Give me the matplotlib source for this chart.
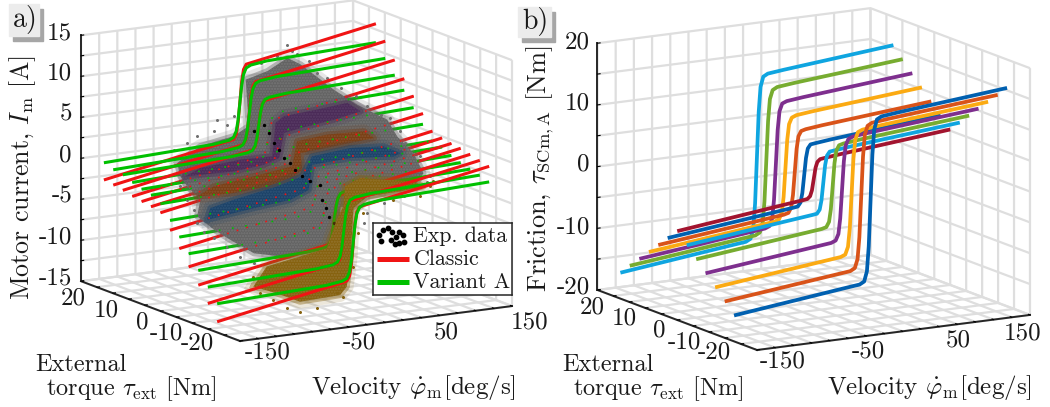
import numpy as np
import matplotlib
matplotlib.use("Agg")
import matplotlib.pyplot as plt
from matplotlib.patches import Rectangle
from mpl_toolkits.mplot3d import proj3d
from mpl_toolkits.mplot3d.art3d import Poly3DCollection

plt.rcParams["font.family"] = ["cmr10", "DejaVu Serif"]
plt.rcParams["mathtext.fontset"] = "cm"
plt.rcParams["axes.unicode_minus"] = False
plt.rcParams["axes.formatter.use_mathtext"] = True
plt.rcParams["grid.color"] = "#dedede"
plt.rcParams["grid.linewidth"] = 1.6

W, H = 1050, 407

# velocity samples of every curve, deg/s
vel = [-150, -30, -12, -7, -4, -2, 0, 2, 4, 7, 12, 30, 150]

# external torque of the 13 curves, back to front
tau = [14.25, 11.9, 9.5, 7.1, 4.75, 2.4, 0, -2.4, -4.75, -7.1, -9.5, -11.9, -14.25]

classic = [
    [-1.6, 0.84, 1.2, 1.3, 1.9, 3.3, 5.8, 8.3, 9.7, 10.3, 10.4, 10.76, 13.2],
    [-1.8, 0.64, 1.0, 1.1, 1.6, 2.7, 4.85, 7.0, 8.1, 8.6, 8.7, 9.06, 11.5],
    [-2.0, 0.44, 0.8, 0.9, 1.25, 2.15, 3.83, 5.5, 6.4, 6.75, 6.85, 7.2, 9.65],
    [-2.3, 0.14, 0.5, 0.57, 0.84, 1.5, 2.75, 4.0, 4.66, 4.93, 5.0, 5.36, 7.8],
    [-2.5, -0.06, 0.3, 0.35, 0.53, 0.98, 1.8, 2.63, 3.07, 3.25, 3.3, 3.66, 6.1],
    [-2.7, -0.26, 0.1, 0.12, 0.21, 0.44, 0.85, 1.26, 1.49, 1.58, 1.6, 1.96, 4.4],
    [-3.0, -0.56, -0.2, -0.2, -0.19, -0.18, -0.15, -0.12, -0.11, -0.1, -0.1, 0.26, 2.7],
    [-4.7, -2.26, -1.9, -1.88, -1.8, -1.6, -1.2, -0.82, -0.6, -0.52, -0.5, -0.14, 2.3],
    [-6.5, -4.06, -3.7, -3.66, -3.48, -3.03, -2.22, -1.41, -0.96, -0.78, -0.74, -0.38, 2.06],
    [-8.3, -5.86, -5.5, -5.43, -5.16, -4.47, -3.2, -1.93, -1.25, -0.97, -0.9, -0.54, 1.9],
    [-10.1, -7.66, -7.3, -7.2, -6.84, -5.93, -4.25, -2.57, -1.66, -1.3, -1.2, -0.84, 1.6],
    [-11.9, -9.46, -9.1, -9.0, -8.53, -7.39, -5.3, -3.21, -2.07, -1.6, -1.5, -1.14, 1.3],
    [-13.7, -11.26, -10.9, -10.76, -10.2, -8.85, -6.35, -3.85, -2.48, -1.94, -1.8, -1.44, 1.0],
]

variant_a = [
    [0.5, 1.02, 1.28, 1.56, 2.3, 3.6, 5.7, 7.8, 9.1, 9.84, 10.12, 10.38, 10.9],
    [0.07, 0.59, 0.83, 1.08, 1.73, 2.87, 4.73, 6.6, 7.74, 8.39, 8.64, 8.88, 9.4],
    [-0.1, 0.42, 0.63, 0.84, 1.37, 2.31, 3.85, 5.39, 6.33, 6.87, 7.07, 7.28, 7.8],
    [-0.6, -0.08, 0.12, 0.29, 0.75, 1.57, 2.9, 4.23, 5.05, 5.51, 5.68, 5.88, 6.4],
    [-1.0, -0.48, -0.31, -0.18, 0.19, 0.82, 1.85, 2.88, 3.51, 3.88, 4.01, 4.18, 4.7],
    [-1.3, -0.78, -0.64, -0.54, -0.28, 0.16, 0.9, 1.64, 2.08, 2.34, 2.44, 2.58, 3.1],
    [-1.9, -1.38, -1.26, -1.19, -1.01, -0.71, -0.2, 0.31, 0.61, 0.79, 0.86, 0.98, 1.5],
    [-3.5, -2.98, -2.83, -2.73, -2.45, -1.96, -1.15, -0.34, 0.15, 0.43, 0.53, 0.68, 1.2],
    [-5.1, -4.58, -4.41, -4.28, -3.92, -3.29, -2.25, -1.21, -0.58, -0.22, -0.09, 0.08, 0.6],
    [-6.7, -6.18, -5.99, -5.82, -5.37, -4.57, -3.28, -1.98, -1.18, -0.73, -0.56, -0.37, 0.15],
    [-8.3, -7.78, -7.56, -7.36, -6.8, -5.84, -4.25, -2.66, -1.7, -1.15, -0.94, -0.72, -0.2],
    [-9.9, -9.38, -9.14, -8.89, -8.23, -7.09, -5.2, -3.31, -2.17, -1.51, -1.26, -1.02, -0.5],
    [-11.5, -10.98, -10.71, -10.43, -9.68, -8.36, -6.2, -4.04, -2.72, -1.97, -1.69, -1.42, -0.9],
]

# friction of panel b, same size at +tau and -tau
f14 = [-15.8, -13.7, -13.4, -13.0, -11.4, -7.4, 0, 7.4, 11.4, 13.0, 13.4, 13.7, 15.4]
f12 = [-14.1, -12.1, -11.8, -11.4, -10.0, -6.5, 0, 6.5, 10.0, 11.4, 11.8, 12.1, 13.7]
f9 = [-12.4, -10.4, -10.1, -9.8, -8.6, -5.6, 0, 5.6, 8.6, 9.8, 10.1, 10.4, 12.0]
f7 = [-10.7, -8.7, -8.4, -8.1, -7.1, -4.6, 0, 4.6, 7.1, 8.1, 8.4, 8.7, 10.3]
f5 = [-9.0, -7.0, -6.7, -6.5, -5.7, -3.7, 0, 3.7, 5.7, 6.5, 6.7, 7.0, 8.6]
f2 = [-7.3, -5.3, -5.0, -4.9, -4.3, -2.8, 0, 2.8, 4.3, 4.9, 5.0, 5.3, 6.9]
f0 = [-5.6, -3.5, -3.2, -3.1, -2.7, -1.8, 0, 1.8, 2.7, 3.1, 3.2, 3.5, 5.2]
friction = [f14, f12, f9, f7, f5, f2, f0, f2, f5, f7, f9, f12, f14]
friction_colors = ["#0fa5e0", "#77ac30", "#7e2f8e", "#fbaa12", "#d95319", "#0060b0", "#a2142f",
                   "#0fa5e0", "#77ac30", "#7e2f8e", "#fbaa12", "#d95319", "#0060b0"]

# outlines of the measured clouds in panel a: velocity and current at one torque
grey_tau = 0
grey_v = [-131.6, -106, -69, -52.5, -56, -32, -10, 4.4, 41, 67, 100, 111, 129, 140, 129, 78, 63,
          48.6, 45, -14, -47, -73, -91, -109.5, -106, -120.6, -128]
grey_z = [2.8, 4.5, 5.2, 6.2, 11.9, 12.6, 13.9, 12.9, 9.3, 7.1, 4.8, 2.6, 0.3, -2.3, -3.8, -4.3, -5.3,
          -5.1, -9.9, -10.3, -9.4, -7.4, -5.9, -4.0, -2.0, -0.2, 1.1]
purple_tau = 4.75
purple_v = [-101.5, -48.2, -15.1, 1.5, 7, 25.3, 62.1, 91.5, 76.8, 43.7, 7, -2.2, -5.9, -40.8, -85]
purple_z = [-0.11, -0.26, 0.07, 0.66, 3.64, 3.98, 4.48, 5.08, 6.31, 5.97, 5.68, 4.99, 0.96, 1.06, 0.67]
orange_tau = 0
orange_v = [-109.6, -69.2, -32.4, -3, 6.2, 4.3, 41.1, 85.2, 74.2, 33.8, 0.7, -4.8, -47.1, -91.2]
orange_z = [-1.58, -1.75, -1.46, -0.65, 0.03, 2.09, 2.39, 2.78, 3.75, 3.92, 3.58, 0.6, -0.02, -0.62]
blue_tau = -2.4
blue_v = [-109.2, -57.7, -17.3, 2.9, 6.6, 48.9, 96.7, 104, 85.6, 48.9, 6.6, -4.4, -32, -79.8, -105.5]
blue_z = [-4.01, -3.31, -2.87, -1.94, 1.07, 1.29, 0.8, 1.11, 2.19, 2.51, 2.09, -0.19, -1.03, -1.98, -2.63]
yellow_tau = -14
yellow_v = [-108.9, -94.2, -57.5, -28, -17, -9.7, -7.8, 8.7, 34.4, 67.5, 78.6, 52.8, 16.1, 1.4,
            -1.6, -6, -13.3, -57.5, -83.2]
yellow_z = [-10.04, -7.8, -7.11, -6.51, -3.19, -1.67, 0.76, 1.54, 0.97, 0.29, -0.48, -0.72, -0.81, -2.03,
            -7.9, -11.51, -12.43, -12.61, -11.22]

# loose points picked around the cloud edges
top_speck_v = [42.5, 48.1, 53.6, 31.5, 13.1, 66.4, 75.6, 86.7, 101.4, 117.9, 130.8, 145.5]
top_speck_z = [12.6, 11.72, 11.23, 11.33, 10.78, 10.22, 8.66, 7.89, 6.46, 5.21, 3.79, 2.56]
mid_speck_v = [103.6, 114.6, 120.1, 136.7, 147.7, 144, 118.3, 96.2, 77.9, 74.2, -142.7, -135.3, -120.6,
               -109.6, -91.2, -76.5, -87.6, -69.2, -128, -120.6, -113.3, -109.6, -102.3, -91.2, -76.5,
               -61.8, -47.1, -32.4]
mid_speck_z = [4.97, 3.17, 1.67, -0.21, -2.8, -3.37, -4.83, -5.34, -6.3, -7.47, 3.38, 4.5, 5.11,
               5.76, 6.11, 6.72, 7.49, 7.63, -0.1, -1.83, -3.16, -4.85, -5.97, -6.94, -8.17,
               -9.61, -10.63, -11.66]
yellow_speck_v = [-109, -101.6, -86.9, -72, -57.5, -39, -17, -9.7, 1.4, 6.9, 12.4, 45.5, 74.9, 85.9, 89.6]
yellow_speck_z = [-8.81, -10.96, -11.99, -13.22, -13.84, -13.69, -12.16, -12.68, -9.17, -5.16, -2.79,
                  -1.64, -1.65, -0.58, -0.03]
black_v = [-47, -36, -30.6, -25, -19.6, -14, -6.7, -1.2, 6.2, 15.4, 26.4, 28.2, 32, 35.6, 41, 44.8, 48.5]
black_z = [5.48, 6.14, 5.04, 3.75, 2.85, 1.75, 1.03, 0.13, -0.78, -1.53, -2.09, -3.96, -5.03, -6.1, -7,
           -7.86, -9.15]

legend_dot_x = [0.045, 0.075, 0.105, 0.14, 0.165, 0.185, 0.215, 0.06, 0.13, 0.16, 0.19, 0.225]
legend_dot_y = [0.84, 0.9, 0.93, 0.87, 0.8, 0.88, 0.84, 0.75, 0.76, 0.71, 0.72, 0.74]

xticks = [-150, -130, -110, -90, -70, -50, -30, -10, 10, 30, 50, 70, 90, 110, 130, 150]
yticks = [-20, -16, -12, -8, -4, 0, 4, 8, 12, 16, 20]

fig = plt.figure(figsize=(W / 100, H / 100), dpi=100)


def px(x, y):
    return x / W, 1 - y / H


def corner(ax, x, y, z):
    xs, ys, _ = proj3d.proj_transform(x, y, z, ax.get_proj())
    return ax.transData.transform((xs, ys))


def fit(ax, a3, a_px, b3, b_px):
    # size and move the square axes so two box corners land where they do in the picture
    ax.set_position([0.2, 0.2, 0.4, 0.4 * W / H])
    ax.apply_aspect()
    p, q = corner(ax, *a3), corner(ax, *b3)
    dist = np.hypot(b_px[0] - a_px[0], b_px[1] - a_px[1])
    side = 0.4 * dist / np.hypot(*(q - p))
    ax.set_position([0.2, 0.2, side, side * W / H])
    ax.apply_aspect()
    p = corner(ax, *a3)
    ax.set_position([0.2 + (a_px[0] - p[0]) / W, 0.2 + (H - a_px[1] - p[1]) / H, side, side * W / H])


def make_axes(zlim, zticks):
    ax = fig.add_subplot(projection="3d", proj_type="ortho", computed_zorder=False)
    ax.view_init(elev=12.7, azim=-120.3)
    ax.set_box_aspect((1, 1, 0.8))
    ax.set_xlim(-150, 150)
    ax.set_ylim(-20, 20)
    ax.set_zlim(*zlim)
    ax.set_xticks(xticks)
    ax.set_yticks(yticks)
    ax.set_zticks(zticks)
    ax.set_xticklabels([])
    ax.set_yticklabels([])
    ax.set_zticklabels([])
    ax.set_facecolor("none")
    for axis in (ax.xaxis, ax.yaxis, ax.zaxis):
        axis.set_pane_color((1, 1, 1, 0))
        axis.pane.set_edgecolor("#dedede")
        axis.line.set_color("#262626")
        axis.line.set_linewidth(1.4)
        axis._axinfo["tick"]["inward_factor"] = 0
        axis._axinfo["tick"]["outward_factor"] = 0.12
        axis._axinfo["tick"]["color"] = "#262626"
    return ax


def labels(names, xs, ys, **kw):
    for name, x, y in zip(names, xs, ys):
        fig.text(*px(x, y), name, va="center", fontsize=18, color="#1a1a1a", **kw)


def title(x, y, text, size, rotation=0):
    fig.text(*px(x, y), text, ha="center", va="center", fontsize=size, rotation=rotation, color="#1a1a1a")


def panel_tag(name, x0, y0, x1, y1):
    fig.add_artist(Rectangle(px(x0 + 4, y1 + 5), (x1 - x0) / W, (y1 - y0) / H,
                             transform=fig.transFigure, color="#a6a6a6", zorder=6))
    fig.add_artist(Rectangle(px(x0, y1), (x1 - x0) / W, (y1 - y0) / H,
                             transform=fig.transFigure, color="#ececec", zorder=6))
    fig.text(*px((x0 + x1) / 2 + 1, (y0 + y1) / 2), name, ha="center", va="center", fontsize=20,
             color="#1a1a1a", zorder=7)


def cloud(ax, v, t, z, color, speck, order):
    # soft rim first, then the dense body of the cloud
    vv, zz = v + v[:1], z + z[:1]
    ax.plot(vv, [t] * len(vv), zz, color=color, lw=10, alpha=0.15, zorder=order)
    ax.plot(vv, [t] * len(vv), zz, color=color, lw=4.5, alpha=0.4, zorder=order)
    poly = Poly3DCollection([list(zip(v, [t] * len(v), z))], facecolor=color, edgecolor=speck,
                            linewidth=0, hatch="......", zorder=order)
    ax.add_collection3d(poly)


# panel a
ax1 = make_axes((-15, 15), [-15, -12.5, -10, -7.5, -5, -2.5, 0, 2.5, 5, 7.5, 10, 12.5, 15])
fit(ax1, (-150, -20, -15), (240, 341), (150, -20, -15), (512, 306))

for i, t in enumerate(tau):
    n = len(vel)
    if t >= 9:
        order = 11      # far curves stay visible above the cloud
    elif t > -9:
        order = 5       # these run inside the cloud
    elif t > -10:
        order = 10
    else:
        order = 13      # near curves pass in front of it
    ax1.plot(vel, [t] * n, classic[i], color="#f01414", lw=2.2, solid_capstyle="butt", zorder=order)
    ax1.plot(vel, [t] * n, variant_a[i], color="#00c000", lw=2.2, solid_capstyle="butt", zorder=order)
    if order == 5:
        ax1.plot(vel, [t] * n, classic[i], color="#f01414", lw=1.2, dashes=(1, 5), zorder=10)
        ax1.plot(vel, [t] * n, variant_a[i], color="#00c000", lw=1.2, dashes=(1, 7), zorder=10)

cloud(ax1, grey_v, grey_tau, grey_z, "#636363", "#767676", 6)
cloud(ax1, purple_v, purple_tau, purple_z, "#4b2b58", "#5a3d67", 7)
cloud(ax1, orange_v, orange_tau, orange_z, "#7a3f15", "#875430", 8)
cloud(ax1, blue_v, blue_tau, blue_z, "#1c4268", "#305578", 9)
cloud(ax1, yellow_v, yellow_tau, yellow_z, "#86620f", "#94752f", 12)

ax1.scatter(top_speck_v, [12] * len(top_speck_v), top_speck_z, s=1.4, color="#707070", depthshade=False, zorder=6)
ax1.scatter(mid_speck_v, [0] * len(mid_speck_v), mid_speck_z, s=1.4, color="#707070", depthshade=False, zorder=6)
ax1.scatter(yellow_speck_v, [-14] * len(yellow_speck_v), yellow_speck_z, s=1.4, color="#86620f",
            depthshade=False, zorder=12)
ax1.scatter(black_v, [0] * len(black_v), black_z, s=2, color="black", depthshade=False, zorder=10)

labels(["15", "10", "5", "0", "-5", "-10", "-15"], [72] * 7, [33, 73, 114, 155, 196, 237, 278], ha="right")
labels(["20", "10", "0", "-10", "-20"], [73, 106, 142, 166, 197], [298, 310, 322, 333, 343], ha="center")
labels(["-150", "-50", "50", "150"], [268, 359, 446, 530], [352, 342, 332, 322], ha="center")
title(23, 177, r"Motor current, $I_{\mathrm{m}}$ [A]", 18.6, 90)
title(81, 365, "External", 17.5)
title(131, 388.5, r"torque $\tau_{\mathrm{ext}}$ [Nm]", 17.5)
title(413, 387, r"Velocity $\dot{\varphi}_{\mathrm{m}}$[deg/s]", 18)

# panel b
ax2 = make_axes((-20, 20), [-20, -15, -10, -5, 0, 5, 10, 15, 20])
fit(ax2, (-150, -20, -20), (757, 350), (150, -20, -20), (1030, 315))
for i, t in enumerate(tau):
    ax2.plot(vel, [t] * len(vel), friction[i], color=friction_colors[i], lw=2.7,
             solid_capstyle="butt", zorder=10 + i)

labels(["20", "10", "0", "-10", "-20"], [590] * 5, [42, 103, 164, 227, 287], ha="right")
labels(["20", "10", "0", "-10", "-20"], [592, 624, 659, 684, 714], [307, 318, 330, 342, 352], ha="center")
labels(["-150", "-50", "50", "150"], [783, 868, 958, 1023], [361, 351, 340, 333], ha="center")
title(540, 169, r"Friction, $\tau_{\mathrm{SCm,A}}$ [Nm]", 19, 90)
title(608, 365, "External", 17.5)
title(658, 388.5, r"torque $\tau_{\mathrm{ext}}$ [Nm]", 17.5)
title(929, 387, r"Velocity $\dot{\varphi}_{\mathrm{m}}$[deg/s]", 18)

panel_tag("a)", 9, 4, 39, 36)
panel_tag("b)", 518, 7, 551, 37)

# legend of panel a
leg = fig.add_axes([373 / W, 1 - 295 / H, 139 / W, 72 / H], zorder=8)
leg.set_xlim(0, 1)
leg.set_ylim(0, 1)
leg.set_xticks([])
leg.set_yticks([])
for spine in leg.spines.values():
    spine.set_linewidth(1.1)
    spine.set_color("#262626")
leg.scatter(legend_dot_x, legend_dot_y, s=10, color="black")
leg.plot([0.03, 0.26], [0.5, 0.5], color="#f01414", lw=3.6, solid_capstyle="butt")
leg.plot([0.03, 0.26], [0.18, 0.18], color="#00c000", lw=3.6, solid_capstyle="butt")
leg.text(0.29, 0.81, "Exp. data", va="center", fontsize=15.8, color="#1a1a1a")
leg.text(0.29, 0.5, "Classic", va="center", fontsize=15.8, color="#1a1a1a")
leg.text(0.29, 0.18, "Variant A", va="center", fontsize=15.8, color="#1a1a1a")

fig.savefig("out.png", dpi=100)
